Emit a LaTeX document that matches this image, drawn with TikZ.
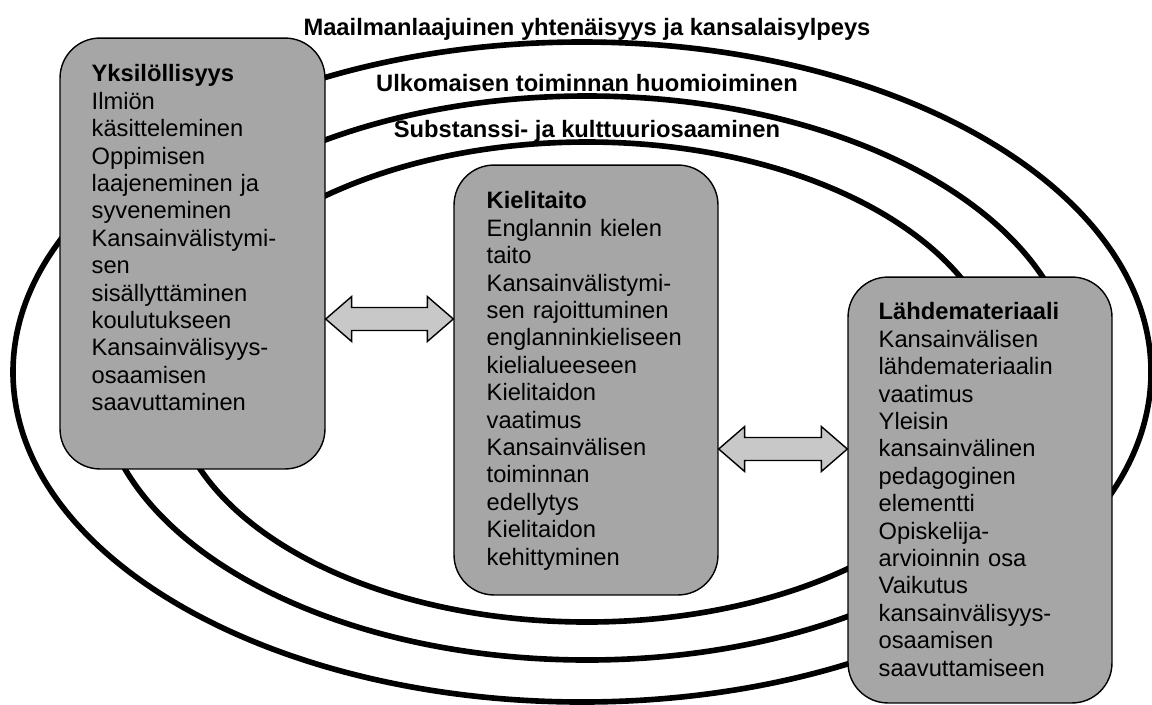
\documentclass[tikz,border=0pt]{standalone}
\usepackage{fontspec}
\setmainfont{Liberation Sans}
\usetikzlibrary{calc,positioning}
\definecolor{boxgray}{RGB}{166,166,166}
\definecolor{arrowgray}{RGB}{200,200,200}

\begin{document}
\begin{tikzpicture}[x=0.02cm,y=-0.02cm,
ring/.style={draw=black,line width=3.2pt},
box/.style={draw=black,line width=0.8pt,fill=boxgray,rounded corners=0.8cm,
minimum width=5.28cm,minimum height=8.6cm,inner sep=0pt},
boxtext/.style={anchor=north west,inner sep=0pt,text width=4.6cm,align=left,
font=\fontsize{13.5}{15.6}\selectfont},
title/.style={anchor=base,inner sep=0pt,font=\bfseries\fontsize{13.5}{15.6}\selectfont},
dblarrow/.style={draw=black,fill=arrowgray,line width=0.8pt,line join=miter,
to path={-- ($(\tikztostart)+(26,-22.5)$) -- ($(\tikztostart)+(26,-11.5)$)
-- ($(\tikztotarget)+(-26,-11.5)$) -- ($(\tikztotarget)+(-26,-22.5)$)
-- (\tikztotarget) -- ($(\tikztotarget)+(-26,22.5)$) -- ($(\tikztotarget)+(-26,11.5)$)
-- ($(\tikztostart)+(26,11.5)$) -- ($(\tikztostart)+(26,22.5)$) -- cycle}}]
\useasboundingbox (0,0) rectangle (1152,704);
% rings
\draw[ring] (582,372) ellipse [x radius=569,y radius=330];
\draw[ring] (587,378) ellipse [x radius=488,y radius=282];
\draw[ring] (587,382) ellipse [x radius=415,y radius=240];
% boxes
\node[box,minimum width=5.3cm,minimum height=8.62cm] (indiv) at (192.5,253.5) {};
\node[box] (lang) at (586,380) {};
\node[box,minimum height=8.52cm] (source) at (980,490) {};
\node[boxtext] (indivtxt) at ([shift={(32,27)}]indiv.north west)
{\textbf{Yksilöllisyys}\\
Ilmiön\\
käsitteleminen\\
Oppimisen\\
laajeneminen ja\\
syveneminen\\
Kansainvälistymi-\\
sen\\
sisällyttäminen\\
koulutukseen\\
Kansainvälisyys-\\
osaamisen\\
saavuttaminen};
\node[boxtext] (langtxt) at ([shift={(33,27)}]lang.north west)
{\textbf{Kielitaito}\\
Englannin kielen\\
taito\\
Kansainvälistymi-\\
sen rajoittuminen\\
englanninkieliseen\\
kielialueeseen\\
Kielitaidon\\
vaatimus\\
Kansainvälisen\\
toiminnan\\
edellytys\\
Kielitaidon\\
kehittyminen};
\node[boxtext] (sourcetxt) at ([shift={(31,26)}]source.north west)
{\textbf{Lähdemateriaali}\\
Kansainvälisen\\
lähdemateriaalin\\
vaatimus\\
Yleisin\\
kansainvälinen\\
pedagoginen\\
elementti\\
Opiskelija-\\
arvioinnin osa\\
Vaikutus\\
kansainvälisyys-\\
osaamisen\\
saavuttamiseen};
% arrows
\coordinate (arrA) at (0,319);
\coordinate (arrB) at (0,449);
\draw[dblarrow] (indiv.east |- arrA) to (lang.west |- arrA);
\draw[dblarrow] (lang.east |- arrB) to (source.west |- arrB);
% titles
\node[title] (world) at (587,35.5) {Maailmanlaajuinen yhtenäisyys ja kansalaisylpeys};
\node[title] (abroad) at (587,91) {Ulkomaisen toiminnan huomioiminen};
\node[title] (subst) at (587,137) {Substanssi- ja kulttuuriosaaminen};
\end{tikzpicture}
\end{document}
